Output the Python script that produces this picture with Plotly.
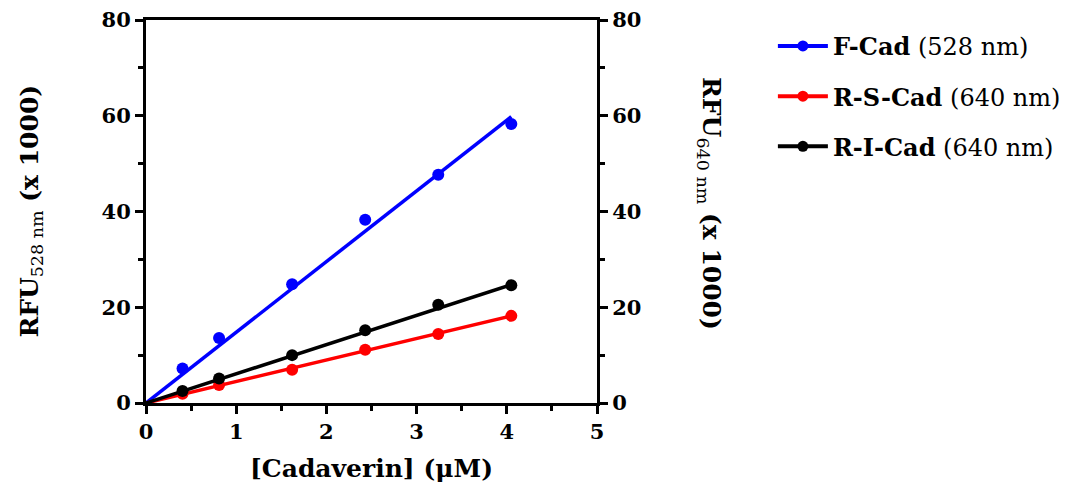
import plotly.graph_objects as go

# Data
conc = [0.405, 0.81, 1.62, 2.43, 3.24, 4.05]
f_cad = [7.2, 13.6, 24.8, 38.3, 47.7, 58.3]
r_s_cad = [1.95, 3.75, 6.95, 11.1, 14.4, 18.2]
r_i_cad = [2.5, 5.1, 10.0, 15.2, 20.5, 24.6]

fit_x = [0, 4.05]
f_fit = [0, 59.8]
rs_fit = [0, 18.2]
ri_fit = [0, 24.7]

names = ["<b>F-Cad</b> (528 nm)", "<b>R-S-Cad</b> (640 nm)", "<b>R-I-Cad</b> (640 nm)"]
colors = ["#0000FF", "#FF0000", "#000000"]
FONT = "DejaVu Serif"

fig = go.Figure()
series = [(f_cad, f_fit, "y"), (r_s_cad, rs_fit, "y2"), (r_i_cad, ri_fit, "y2")]
for i, (vals, fit, ax) in enumerate(series):
    fig.add_trace(go.Scatter(x=fit_x, y=fit, mode="lines", yaxis=ax,
                             line=dict(color=colors[i], width=3.5), showlegend=False,
                             hoverinfo="skip"))
    fig.add_trace(go.Scatter(x=conc, y=vals, mode="markers", yaxis=ax,
                             marker=dict(color=colors[i], size=12), showlegend=False))
    fig.add_trace(go.Scatter(x=[None], y=[None], mode="lines+markers", yaxis=ax,
                             line=dict(color=colors[i], width=4),
                             marker=dict(color=colors[i], size=11),
                             name=names[i], legendgroup=str(i)))

tickfont = dict(family=FONT, size=21, color="black", weight="bold")
common = dict(showgrid=False, zeroline=False, showline=True, linecolor="black", linewidth=3,
              ticks="outside", ticklen=8, tickwidth=3, tickcolor="black", tickfont=tickfont,
              automargin=False, ticklabeloverflow="allow")

fig.update_layout(
    width=1087, height=495,
    margin=dict(l=138, r=498, t=12, b=100),
    plot_bgcolor="white", paper_bgcolor="white",
    font=dict(family=FONT, color="black"),
    xaxis=dict(range=[0, 5], tickvals=[0, 1, 2, 3, 4, 5], mirror=True,
               minor=dict(dtick=0.5, ticks="outside", ticklen=5, tickwidth=3, tickcolor="black"),
               title=dict(text="<b>[Cadaverin] (μM)</b>", font=dict(family=FONT, size=25), standoff=17),
               **common),
    yaxis=dict(range=[0, 80], tickvals=[0, 20, 40, 60, 80],
               minor=dict(dtick=10, ticks="outside", ticklen=5, tickwidth=3, tickcolor="black"),
               **common),
    yaxis2=dict(range=[0, 80], tickvals=[0, 20, 40, 60, 80], overlaying="y", side="right",
                minor=dict(dtick=10, ticks="outside", ticklen=5, tickwidth=3, tickcolor="black"),
                **common),
    legend=dict(x=1.39, y=0.99, xanchor="left", yanchor="top", font=dict(family=FONT, size=24),
                tracegroupgap=16, itemwidth=50, traceorder="grouped"),
    annotations=[
        dict(text="<b>RFU</b><sub>528 nm</sub><b> (x 1000)</b>", xref="paper", yref="paper",
             x=-0.257, y=0.5, textangle=-90, showarrow=False, font=dict(family=FONT, size=25),
             xanchor="center", yanchor="middle"),
        dict(text="<b>RFU</b><sub>640 nm</sub><b> (x 1000)</b>", xref="paper", yref="paper",
             x=1.25, y=0.52, textangle=90, showarrow=False, font=dict(family=FONT, size=25),
             xanchor="center", yanchor="middle"),
    ],
)

fig.write_html("out.html")
